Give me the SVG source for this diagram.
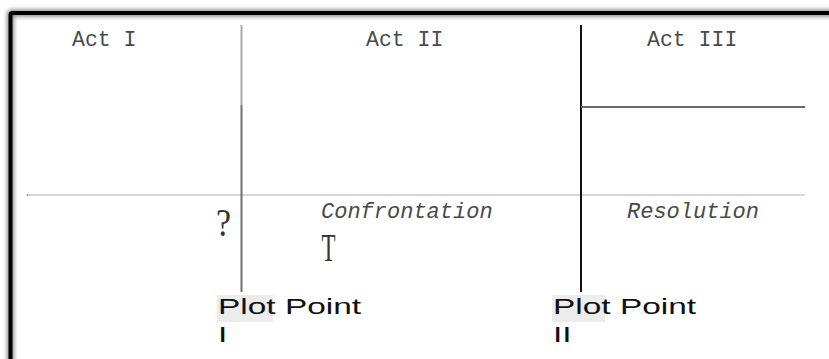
<svg xmlns="http://www.w3.org/2000/svg" width="829" height="359" viewBox="0 0 829 359">
  <defs>
    <filter id="sh" x="-5%" y="-5%" width="110%" height="110%">
      <feGaussianBlur stdDeviation="2"/>
    </filter>
    <style>
      .act { font-family: "Liberation Mono", "Courier New", monospace; font-size: 21.5px; fill: #4a4a4a; }
      .phase { font-family: "Liberation Mono", "Courier New", monospace; font-size: 22px; font-style: italic; fill: #4a4a4a; }
      .mark { font-family: "Liberation Serif", "Times New Roman", serif; font-size: 39px; fill: #333; }
      .pp { font-family: "Liberation Sans", Arial, sans-serif; font-size: 22px; fill: #111; }
      .hl { fill: #ececec; }
    </style>
  </defs>
  <rect width="829" height="359" fill="#ffffff"/>
  <g id="frame">
    <path d="M10.5 365 V15 Q10.5 13 12.5 13 H840" fill="none" stroke="#888" stroke-width="7" filter="url(#sh)"/>
    <path d="M10.5 365 V15 Q10.5 13 12.5 13 H840" fill="none" stroke="#000" stroke-width="4"/>
  </g>
  <g id="connectors">
    <line x1="27" y1="195" x2="805" y2="195" stroke="#c8c8c8" stroke-width="1.5"/>
    <circle cx="27.5" cy="195" r="1" fill="#999"/>
    <line x1="241.5" y1="25" x2="241.5" y2="105" stroke="#a8a8a8" stroke-width="2"/>
    <line x1="241.5" y1="105" x2="241.5" y2="292" stroke="#6e6e6e" stroke-width="2"/>
    <line x1="581" y1="25" x2="581" y2="292" stroke="#111" stroke-width="2"/>
    <line x1="581" y1="107" x2="805" y2="107" stroke="#6a6a6a" stroke-width="2"/>
  </g>
  <g id="act1"><text class="act" x="72" y="46">Act I</text></g>
  <g id="act2"><text class="act" x="366" y="46">Act II</text></g>
  <g id="act3"><text class="act" x="647" y="46">Act III</text></g>
  <g id="confrontation"><text class="phase" x="321" y="218">Confrontation</text></g>
  <g id="resolution"><text class="phase" x="627" y="218">Resolution</text></g>
  <g id="question"><text class="mark" x="216" y="236" textLength="15" lengthAdjust="spacingAndGlyphs">?</text></g>
  <g id="tmark"><text class="mark" x="321.5" y="261" textLength="14" lengthAdjust="spacingAndGlyphs">T</text></g>
  <g id="plotpoint1">
    <rect class="hl" x="217" y="295" width="56" height="27"/>
    <g transform="translate(218,0) scale(1.52,1)">
      <text class="pp" x="0" y="314">Plot Point</text>
      <text class="pp" x="0" y="342">I</text>
    </g>
  </g>
  <g id="plotpoint2">
    <rect class="hl" x="552" y="295" width="53" height="27"/>
    <g transform="translate(553,0) scale(1.52,1)">
      <text class="pp" x="0" y="314">Plot Point</text>
      <text class="pp" x="0" y="342">II</text>
    </g>
  </g>
</svg>
